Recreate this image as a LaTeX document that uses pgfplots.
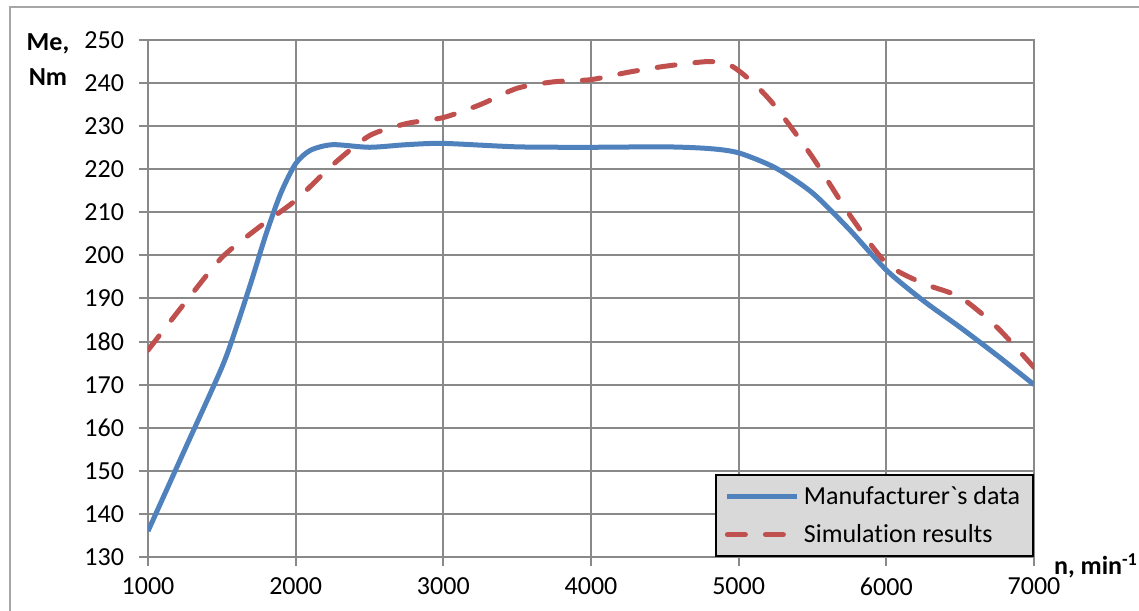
\documentclass[border=0pt]{standalone}
\usepackage{fontspec}
\setmainfont{Carlito}[Ligatures={TeX,NoCommon}]
\usepackage{pgfplots}
\pgfplotsset{compat=1.18}
\definecolor{mblue}{HTML}{4F81BD}
\definecolor{mred}{HTML}{C0504D}
\definecolor{gridgray}{HTML}{898989}
\definecolor{framegray}{HTML}{A6A6A6}
\definecolor{legfill}{HTML}{D9D9D9}
\begin{document}
\begin{tikzpicture}
\path[use as bounding box] (-74pt,-26.5pt) rectangle (495.5pt,278.5pt);
\draw[framegray, line width=1pt] (-69pt,-27pt) -- (-69pt,275pt) -- (496pt,275pt);
\begin{axis}[
  scale only axis,
  width=443pt, height=258.5pt,
  xmin=1000, xmax=7000, ymin=130, ymax=250,
  xtick={1000,2000,...,7000},
  ytick={130,140,...,250},
  /pgf/number format/1000 sep={},
  /pgf/number format/assume math mode=true,
  font=\fontsize{13}{15.6}\selectfont,
  grid=major,
  major grid style={draw=gridgray, line width=1pt},
  axis line style={draw=gridgray, line width=1pt},
  tick style={draw=gridgray, line width=1pt},
  tick align=outside,
  major tick length=4.5pt,
  xtick pos=bottom, ytick pos=left,
  yticklabel style={xshift=-4pt},
  xticklabel style={yshift=-2.5pt},
  ylabel={\textbf{Me,}\\\textbf{Nm}},
  ylabel style={rotate=-90, align=center, font=\fontsize{13}{17.5}\selectfont, at={(axis description cs:0,1)}, anchor=center, xshift=-50pt, yshift=-10pt},
  xlabel={\textbf{n, min\textsuperscript{-1}}},
  xlabel style={at={(axis description cs:1,0)}, anchor=center, xshift=31pt, yshift=-4.5pt},
  legend style={at={(axis description cs:1,0)}, anchor=south east, fill=legfill, draw=black, line width=0.8pt,
    font=\fontsize{13}{15.6}\selectfont, inner xsep=4.5pt, inner ysep=3.5pt, row sep=4.5pt,
    /tikz/every even column/.append style={column sep=2pt}},
  legend cell align=left,
  legend image code/.code={\draw[#1] (0pt,0pt) -- (35pt,0pt);},
]
\addplot[mblue, line width=2.5pt, smooth, tension=0.45] coordinates {
(1000,136) (1250,155) (1500,174) (1600,183.5) (1700,194) (1800,205) (1900,214.5) (2000,221.3) (2100,224.4) (2250,225.7) (2500,225.1) (2750,225.7) (3000,226) (3500,225.2) (4000,225.1) (4500,225.2) (4800,224.8) (5000,223.8) (5250,220.3) (5500,214.5) (5750,206) (6000,196.6) (6250,189.5) (6500,183.3) (6750,176.8) (7000,170)
};
\addlegendentry{Manufacturer\textasciigrave s data}
\addplot[mred, line width=2.5pt, line cap=round, dash pattern=on 9pt off 10pt, smooth, tension=0.45] coordinates {
(1000,178) (1250,189) (1500,199.5) (1750,206.5) (2000,212.8) (2250,221) (2500,227.8) (2750,230.6) (3000,232) (3250,235) (3500,238.8) (3750,240.3) (4000,240.8) (4250,242.5) (4500,243.9) (4800,245) (4950,244) (5100,240) (5250,234.5) (5500,222.8) (5750,209.5) (6000,198.2) (6250,193.5) (6500,190.3) (6750,183.3) (7000,174)
};
\addlegendentry{Simulation results}
\end{axis}
\end{tikzpicture}
\end{document}
